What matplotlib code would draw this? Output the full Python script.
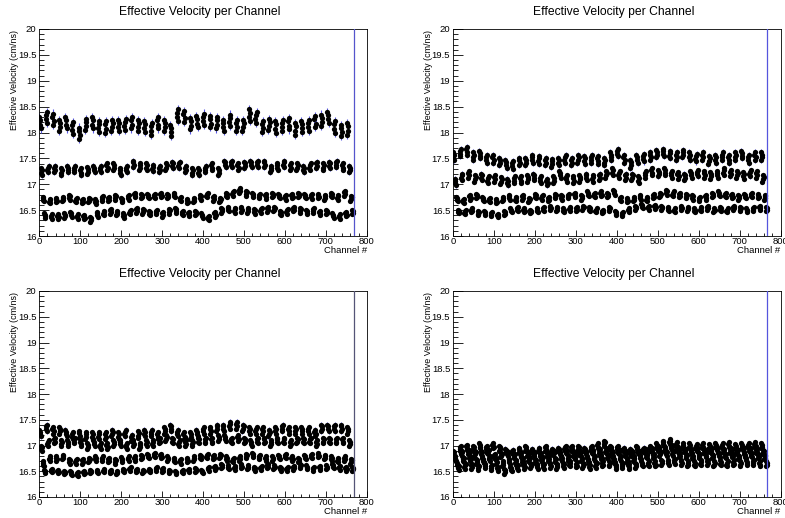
import numpy as np
import matplotlib
matplotlib.use("Agg")
import matplotlib.pyplot as plt
from matplotlib.ticker import MultipleLocator, FormatStrFormatter

plt.rcParams['font.family'] = ['Liberation Sans', 'DejaVu Sans']

# 768 channels, grouped in blocks of 16; each block holds 4 channels per band
n_blocks = 48
block_size = 16
per_band = 4

# Block-mean effective velocity (cm/ns) for the four bands of each panel
p1_a = [18.20, 18.30, 18.27, 18.15, 18.20, 18.10, 18.00, 18.17, 18.20, 18.13, 18.12, 18.15,
        18.15, 18.17, 18.20, 18.15, 18.13, 18.08, 18.20, 18.15, 18.05, 18.35, 18.32, 18.18,
        18.22, 18.27, 18.22, 18.20, 18.15, 18.25, 18.15, 18.15, 18.35, 18.30, 18.13, 18.17,
        18.12, 18.15, 18.18, 18.08, 18.13, 18.15, 18.22, 18.25, 18.30, 18.12, 18.05, 18.08]
p1_b = [17.25, 17.30, 17.30, 17.25, 17.30, 17.30, 17.25, 17.27, 17.30, 17.30, 17.35, 17.35,
        17.25, 17.30, 17.40, 17.35, 17.35, 17.32, 17.30, 17.35, 17.38, 17.38, 17.30, 17.25,
        17.25, 17.30, 17.35, 17.25, 17.40, 17.40, 17.35, 17.38, 17.40, 17.40, 17.40, 17.30,
        17.35, 17.40, 17.35, 17.35, 17.30, 17.35, 17.38, 17.35, 17.38, 17.40, 17.35, 17.30]
p1_c = [16.72, 16.68, 16.70, 16.72, 16.75, 16.70, 16.68, 16.70, 16.67, 16.73, 16.72, 16.75,
        16.70, 16.75, 16.80, 16.78, 16.78, 16.78, 16.80, 16.78, 16.80, 16.72, 16.68, 16.70,
        16.75, 16.80, 16.73, 16.70, 16.80, 16.83, 16.88, 16.83, 16.80, 16.78, 16.77, 16.80,
        16.78, 16.75, 16.78, 16.80, 16.78, 16.77, 16.78, 16.75, 16.80, 16.75, 16.83, 16.73]
p1_d = [16.40, 16.38, 16.38, 16.40, 16.42, 16.38, 16.37, 16.33, 16.42, 16.45, 16.48, 16.45,
        16.40, 16.47, 16.50, 16.48, 16.45, 16.47, 16.42, 16.48, 16.50, 16.45, 16.43, 16.45,
        16.40, 16.35, 16.42, 16.50, 16.53, 16.50, 16.52, 16.50, 16.48, 16.50, 16.52, 16.53,
        16.45, 16.48, 16.53, 16.50, 16.47, 16.50, 16.45, 16.47, 16.40, 16.38, 16.43, 16.47]

p2_a = [17.55, 17.62, 17.65, 17.55, 17.58, 17.50, 17.50, 17.45, 17.40, 17.38, 17.45, 17.45,
        17.50, 17.48, 17.45, 17.42, 17.45, 17.50, 17.45, 17.50, 17.48, 17.50, 17.48, 17.45,
        17.55, 17.62, 17.50, 17.40, 17.50, 17.52, 17.55, 17.60, 17.62, 17.58, 17.55, 17.60,
        17.55, 17.52, 17.55, 17.48, 17.50, 17.55, 17.50, 17.55, 17.58, 17.50, 17.55, 17.55]
p2_b = [17.05, 17.15, 17.20, 17.12, 17.15, 17.10, 17.12, 17.08, 17.05, 17.10, 17.10, 17.12,
        17.15, 17.10, 17.05, 17.10, 17.20, 17.12, 17.10, 17.12, 17.15, 17.12, 17.15, 17.20,
        17.25, 17.20, 17.15, 17.15, 17.10, 17.20, 17.25, 17.22, 17.25, 17.20, 17.18, 17.15,
        17.20, 17.22, 17.20, 17.18, 17.20, 17.25, 17.22, 17.20, 17.18, 17.22, 17.20, 17.12]
p2_c = [16.72, 16.68, 16.75, 16.78, 16.72, 16.70, 16.68, 16.72, 16.75, 16.72, 16.75, 16.70,
        16.78, 16.75, 16.72, 16.78, 16.75, 16.78, 16.80, 16.75, 16.82, 16.80, 16.82, 16.80,
        16.85, 16.72, 16.70, 16.72, 16.75, 16.72, 16.78, 16.80, 16.85, 16.82, 16.80, 16.78,
        16.75, 16.72, 16.75, 16.80, 16.82, 16.80, 16.78, 16.75, 16.78, 16.80, 16.78, 16.75]
p2_d = [16.48, 16.47, 16.50, 16.45, 16.45, 16.43, 16.40, 16.45, 16.50, 16.52, 16.50, 16.48,
        16.50, 16.52, 16.55, 16.52, 16.50, 16.53, 16.52, 16.55, 16.52, 16.50, 16.48, 16.52,
        16.45, 16.43, 16.50, 16.55, 16.58, 16.55, 16.57, 16.55, 16.52, 16.50, 16.55, 16.53,
        16.50, 16.52, 16.55, 16.50, 16.52, 16.50, 16.55, 16.52, 16.50, 16.52, 16.55, 16.52]

p3_a = [17.25, 17.35, 17.30, 17.30, 17.25, 17.20, 17.22, 17.20, 17.20, 17.20, 17.20, 17.25,
        17.20, 17.25, 17.15, 17.22, 17.25, 17.25, 17.20, 17.30, 17.35, 17.25, 17.20, 17.20,
        17.25, 17.30, 17.30, 17.35, 17.35, 17.40, 17.40, 17.35, 17.30, 17.30, 17.30, 17.25,
        17.30, 17.35, 17.30, 17.30, 17.30, 17.30, 17.25, 17.35, 17.35, 17.35, 17.35, 17.30]
p3_b = [16.95, 17.05, 17.10, 17.05, 17.05, 17.10, 17.05, 17.00, 17.05, 17.00, 17.00, 17.05,
        17.05, 17.00, 17.05, 17.00, 17.05, 17.05, 17.10, 17.15, 17.10, 17.05, 17.05, 17.05,
        17.10, 17.10, 17.10, 17.15, 17.15, 17.10, 17.15, 17.10, 17.05, 17.10, 17.10, 17.05,
        17.10, 17.10, 17.05, 17.10, 17.10, 17.10, 17.05, 17.10, 17.10, 17.10, 17.10, 17.05]
p3_c = [16.65, 16.75, 16.75, 16.78, 16.70, 16.70, 16.70, 16.72, 16.75, 16.75, 16.72, 16.70,
        16.73, 16.75, 16.75, 16.78, 16.80, 16.82, 16.80, 16.75, 16.72, 16.70, 16.72, 16.75,
        16.78, 16.80, 16.78, 16.80, 16.75, 16.72, 16.75, 16.80, 16.82, 16.78, 16.75, 16.75,
        16.78, 16.80, 16.75, 16.72, 16.78, 16.80, 16.82, 16.78, 16.75, 16.72, 16.75, 16.70]
p3_d = [16.50, 16.52, 16.50, 16.48, 16.47, 16.45, 16.48, 16.50, 16.50, 16.52, 16.50, 16.48,
        16.52, 16.55, 16.52, 16.50, 16.52, 16.55, 16.53, 16.50, 16.48, 16.50, 16.52, 16.53,
        16.50, 16.55, 16.57, 16.60, 16.58, 16.57, 16.60, 16.58, 16.55, 16.57, 16.60, 16.58,
        16.55, 16.55, 16.57, 16.60, 16.58, 16.55, 16.57, 16.58, 16.60, 16.57, 16.55, 16.55]

p4_a = [16.85, 16.95, 16.97, 16.95, 17.00, 16.95, 17.00, 16.95, 16.90, 16.88, 16.92, 16.95,
        16.90, 16.92, 16.95, 16.90, 16.92, 16.95, 16.95, 16.95, 16.92, 16.95, 17.00, 17.05,
        16.95, 16.95, 16.92, 16.90, 16.95, 16.92, 16.95, 17.00, 17.05, 17.08, 17.02, 17.00,
        17.00, 16.98, 17.00, 16.98, 17.00, 17.00, 17.02, 16.98, 17.00, 17.00, 17.02, 17.00]
p4_b = [16.75, 16.85, 16.88, 16.85, 16.85, 16.88, 16.80, 16.82, 16.85, 16.80, 16.82, 16.85,
        16.85, 16.82, 16.85, 16.87, 16.85, 16.88, 16.85, 16.87, 16.85, 16.88, 16.90, 16.92,
        16.85, 16.88, 16.85, 16.85, 16.88, 16.90, 16.92, 16.95, 16.95, 16.97, 16.93, 16.92,
        16.90, 16.92, 16.90, 16.92, 16.93, 16.90, 16.92, 16.90, 16.93, 16.92, 16.90, 16.88]
p4_c = [16.65, 16.72, 16.75, 16.70, 16.72, 16.75, 16.70, 16.65, 16.70, 16.68, 16.72, 16.75,
        16.70, 16.73, 16.75, 16.72, 16.75, 16.75, 16.78, 16.75, 16.72, 16.75, 16.78, 16.80,
        16.72, 16.75, 16.72, 16.75, 16.78, 16.80, 16.80, 16.85, 16.85, 16.85, 16.82, 16.80,
        16.78, 16.80, 16.82, 16.80, 16.82, 16.80, 16.82, 16.78, 16.80, 16.82, 16.80, 16.78]
p4_d = [16.58, 16.60, 16.60, 16.58, 16.62, 16.58, 16.55, 16.50, 16.55, 16.58, 16.60, 16.62,
        16.60, 16.60, 16.62, 16.60, 16.62, 16.65, 16.63, 16.62, 16.60, 16.62, 16.65, 16.65,
        16.60, 16.62, 16.60, 16.62, 16.65, 16.65, 16.65, 16.68, 16.68, 16.70, 16.68, 16.65,
        16.65, 16.67, 16.68, 16.65, 16.67, 16.65, 16.67, 16.65, 16.67, 16.68, 16.65, 16.65]

# Spread of the four channels of a band inside one block, and per-point errors
p1_spread = [0.12, 0.07, 0.05, 0.05]
p2_spread = [0.08, 0.07, 0.05, 0.04]
p3_spread = [0.07, 0.06, 0.05, 0.04]
p4_spread = [0.05, 0.05, 0.05, 0.05]
p1_err = [0.08, 0.05, 0.03, 0.025]
p2_err = [0.06, 0.045, 0.03, 0.02]
p3_err = [0.05, 0.04, 0.025, 0.02]
p4_err = [0.045, 0.035, 0.025, 0.02]
channel_offsets = [0.8, -0.4, 0.3, -1.0]

panels = [
    ([p1_a, p1_b, p1_c, p1_d], p1_spread, p1_err, '#5555cc'),
    ([p2_a, p2_b, p2_c, p2_d], p2_spread, p2_err, '#5555dd'),
    ([p3_a, p3_b, p3_c, p3_d], p3_spread, p3_err, '#555577'),
    ([p4_a, p4_b, p4_c, p4_d], p4_spread, p4_err, '#5555dd'),
]

last_channel = 768
title = "Effective Velocity per Channel"
xlabel = "Channel #"
ylabel = "Effective Velocity (cm/ns)"


def build_graph(bands, spread, err):
    xs, ys, es = [], [], []
    for b, means in enumerate(bands):
        for k, m in enumerate(means):
            for j in range(per_band):
                ch = k * block_size + b * per_band + j
                off = channel_offsets[(j + k) % per_band]
                xs.append(ch)
                ys.append(m + spread[b] * off)
                es.append(err[b])
    return np.array(xs), np.array(ys), np.array(es)


W, H = 785, 518
fig = plt.figure(figsize=(W / 100, H / 100), dpi=100)

# Axes rectangles in pixels: left, top, right, bottom
rects = [(39.3, 29, 366.7, 236), (453, 29, 780.5, 236),
         (39.3, 291, 366.7, 497), (453, 291, 780.5, 497)]

for (bands, spread, err, lcol), (l, t, r, b) in zip(panels, rects):
    ax = fig.add_axes([l / W, 1 - b / H, (r - l) / W, (b - t) / H])
    x, y, e = build_graph(bands, spread, err)
    ax.errorbar(x, y, yerr=e, fmt='none', ecolor='#5a5ae6', elinewidth=0.8,
                capsize=0, zorder=2)
    ax.plot(x, y, 'o', color='black', markersize=3.8, markeredgewidth=0, zorder=3)
    ax.axvline(last_channel, color=lcol, linewidth=0.9, zorder=4)
    ax.set_xlim(0, 800)
    ax.set_ylim(16, 20)
    ax.xaxis.set_major_locator(MultipleLocator(100))
    ax.xaxis.set_minor_locator(MultipleLocator(20))
    ax.yaxis.set_major_locator(MultipleLocator(0.5))
    ax.yaxis.set_minor_locator(MultipleLocator(0.1))
    ax.yaxis.set_major_formatter(FormatStrFormatter('%g'))
    ax.tick_params(axis='x', which='major', direction='in', length=4.5, width=0.6,
                   labelsize=6.8, pad=0.8, top=False)
    ax.tick_params(axis='x', which='minor', direction='in', length=2.3, width=0.6, top=False)
    ax.tick_params(axis='y', which='major', direction='in', length=7.2, width=0.6,
                   labelsize=6.8, pad=2, right=False)
    ax.tick_params(axis='y', which='minor', direction='in', length=3.6, width=0.6, right=False)
    for s in ax.spines.values():
        s.set_linewidth(0.6)
    cx = (l + r) / 2 - 3
    fig.text(cx / W, 1 - (t - 17) / H, title, ha='center', va='center', fontsize=8.7)
    fig.text(r / W, 1 - (b + 14.5) / H, xlabel, ha='right', va='center', fontsize=6.8)
    fig.text((l - 24.5) / W, 1 - (t + 1) / H, ylabel, ha='center', va='top',
             rotation=90, fontsize=6.4)

fig.savefig("out.png", dpi=100)
